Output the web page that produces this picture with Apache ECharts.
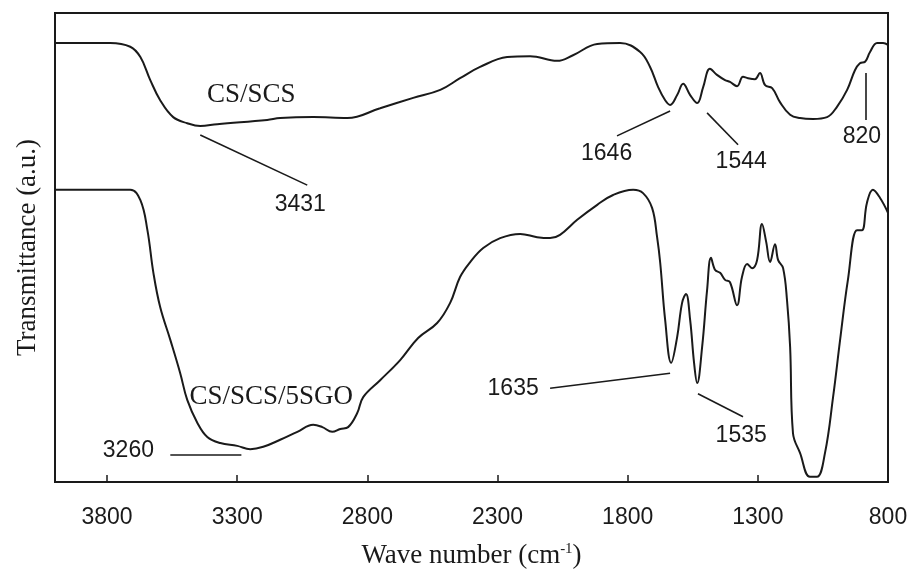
<!DOCTYPE html>
<html>
<head>
<meta charset="utf-8">
<script src="https://cdn.jsdelivr.net/npm/echarts@6/dist/echarts.min.js"></script>
<style>html,body{margin:0;padding:0;background:#fff}#c{width:911px;height:575px}</style>
</head>
<body>
<div id="c"></div>
<script>
// ---- data (wavenumber in cm-1, transmittance in arbitrary units) ----
const csScsWave = [4000,3788,3711,3672,3634,3596,3546,3492,3442,3377,3185,3135,3008,2877,2751,2624,2520,2444,2367,2263,2175,2071,2010,1917,1829,1752,1714,1683,1656,1637,1610,1587,1560,1533,1510,1484,1457,1426,1407,1380,1357,1338,1311,1292,1272,1245,1215,1176,1138,1088,1034,996,957,927,908,888,869,842,819,800];
const csScsT    = [93.6,93.6,92.8,90.6,85.7,81.4,77.8,76.5,75.9,76.3,77.2,77.6,77.8,77.6,79.7,81.9,83.6,86.1,88.5,90.6,90.8,89.8,91.0,93.4,93.6,91.7,88.5,84.2,81.4,80.4,82.5,84.9,82.5,80.8,84.2,88.1,86.8,85.7,85.3,84.4,86.4,86.1,85.9,87.2,84.6,84.0,81.0,78.3,77.6,77.4,77.8,80.0,83.6,87.8,89.3,89.6,91.7,93.6,93.6,93.2];

const csScsGoWave = [4000,3711,3672,3645,3622,3596,3557,3519,3492,3453,3415,3365,3300,3250,3200,3135,3069,3008,2973,2935,2904,2874,2839,2816,2751,2674,2605,2532,2482,2444,2405,2355,2290,2213,2148,2098,2060,1994,1917,1856,1779,1741,1706,1687,1675,1656,1633,1610,1591,1576,1560,1545,1533,1514,1495,1480,1464,1445,1426,1407,1380,1361,1341,1322,1303,1284,1268,1253,1234,1222,1203,1188,1176,1165,1138,1100,1073,1042,1011,984,954,919,900,881,858,831,800];
const csScsGoT    = [62.3,62.3,60.1,53.7,44.6,37.3,30.3,23.2,17.5,12.6,9.6,8.3,7.7,7.0,7.5,9.0,10.7,12.2,11.7,10.7,11.3,11.7,14.7,18.1,21.7,26.0,30.7,33.9,38.2,43.7,46.9,49.9,52.0,52.9,52.2,52.0,52.7,55.9,59.1,61.2,62.3,61.6,58.4,52.2,46.7,34.5,25.4,30.9,38.2,40.1,34.5,25.4,21.1,28.8,40.9,47.8,45.2,44.6,43.1,42.6,37.7,43.7,46.5,45.6,47.3,55.0,51.2,46.9,50.7,47.3,45.6,38.8,28.8,10.4,6.2,1.1,1.1,6.2,18.1,30.3,43.1,53.7,53.7,59.5,62.3,60.6,57.4];

// annotation texts and their anchor (wavenumber, transmittance)
const noteText  = ['CS/SCS','3431','1646','1544','820','CS/SCS/5SGO','3260','1635','1535'];
const noteWave  = [3246,3058,1881,1364,900,3169,3718,2240,1364];
const noteT     = [82.5,59.1,70.1,68.2,73.6,18.1,6.6,19.8,9.8];
const noteSerif = [true,false,false,false,false,true,false,false,false];

// leader lines: [wave1, T1, wave2, T2]
const leaders = [
  [3442,74.0,3031,63.3],
  [1637,79.1,1841,73.8],
  [1495,78.7,1376,71.9],
  [884,87.2,884,77.2],
  [3557,5.8,3284,5.8],
  [2098,20.0,1637,23.2],
  [1530,18.8,1357,13.9]
];

// ---- chart ----
const zip = (a, b) => a.map((v, i) => [v, b[i]]);
const serif = '"Liberation Serif","DejaVu Serif",serif';
const sans = '"Liberation Sans","DejaVu Sans",sans-serif';
const ink = '#1a1a1a';

const chart = echarts.init(document.getElementById('c'), null, {renderer: 'canvas'});
chart.setOption({
  animation: false,
  backgroundColor: '#fff',
  grid: {left: 55, right: 23, top: 13, bottom: 93, show: true, borderColor: ink, borderWidth: 2, containLabel: false},
  xAxis: {
    type: 'value', min: 800, max: 4000, interval: 500, inverse: true,
    name: 'Wave number (cm{sup|-1})', nameLocation: 'middle', nameGap: 60,
    nameTextStyle: {fontFamily: serif, fontSize: 27, color: ink,
      rich: {sup: {fontFamily: serif, fontSize: 15, color: ink, verticalAlign: 'top', padding: [0, 0, 12, 0]}}},
    axisLine: {show: true, lineStyle: {color: ink, width: 2}},
    axisTick: {show: true, inside: true, length: 7, lineStyle: {color: ink, width: 1.5}},
    axisLabel: {show: true, showMaxLabel: false, margin: 24, fontFamily: sans, fontSize: 23, color: ink,
      formatter: v => String(v)},
    splitLine: {show: false}
  },
  yAxis: {
    type: 'value', min: 0, max: 100,
    name: 'Transmittance (a.u.)', nameLocation: 'middle', nameGap: 14,
    nameTextStyle: {fontFamily: serif, fontSize: 27, color: ink},
    axisLine: {show: true, lineStyle: {color: ink, width: 2}},
    axisTick: {show: false}, axisLabel: {show: false}, splitLine: {show: false}
  },
  series: [
    {type: 'line', name: 'CS/SCS', data: zip(csScsWave, csScsT), showSymbol: false, smooth: 0.4,
     lineStyle: {color: ink, width: 2}, silent: true},
    {type: 'line', name: 'CS/SCS/5SGO', data: zip(csScsGoWave, csScsGoT), showSymbol: false, smooth: 0.4,
     lineStyle: {color: ink, width: 2}, silent: true},
    {type: 'scatter', name: 'notes', symbolSize: 0, silent: true,
     itemStyle: {opacity: 1},
     data: noteText.map((t, i) => ({
       value: [noteWave[i], noteT[i], t],
       label: {fontFamily: noteSerif[i] ? serif : sans, fontSize: noteSerif[i] ? 27 : 23}
     })),
     label: {show: true, position: 'inside', align: 'center', verticalAlign: 'middle', color: ink, opacity: 1,
       textBorderWidth: 0, formatter: p => p.value[2]},
     markLine: {silent: true, symbol: ['none', 'none'], label: {show: false},
       lineStyle: {type: 'solid', color: ink, width: 1.6, opacity: 1},
       data: leaders.map(l => [{coord: [l[0], l[1]]}, {coord: [l[2], l[3]]}])}
    }
  ]
});
</script>
</body>
</html>
